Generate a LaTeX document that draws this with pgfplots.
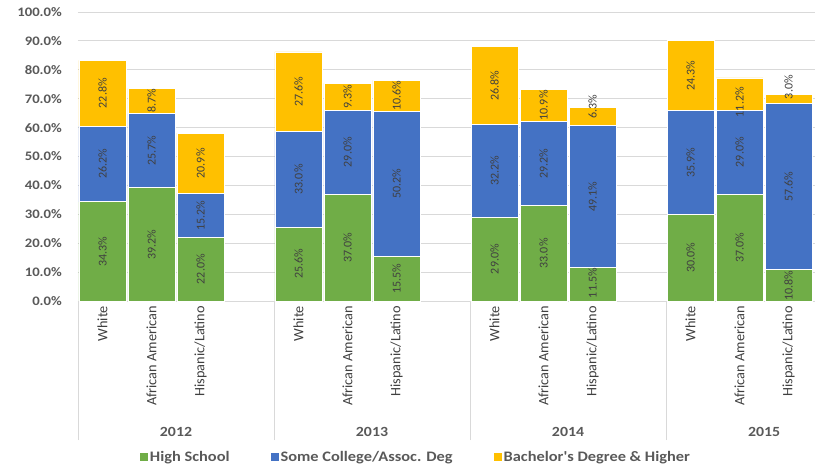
\documentclass[border=0pt]{standalone}
\usepackage{pgfplots}
\pgfplotsset{compat=1.18}
\usepackage{pgfplotstable}
\usepackage{fontspec}
\setmainfont{Carlito}
\newfontfamily\wide{Carlito}[FakeStretch=1.13]
\definecolor{cHS}{HTML}{70AD47}
\definecolor{cSC}{HTML}{4472C4}
\definecolor{cBA}{HTML}{FFC000}
\definecolor{gridc}{HTML}{D9D9D9}
\definecolor{tickc}{HTML}{595959}
\definecolor{labc}{HTML}{404040}

\pgfplotstableread{
x hs sc ba
0 34.3 26.2 22.8
1 39.2 25.7 8.7
2 22.0 15.2 20.9
4 25.6 33.0 27.6
5 37.0 29.0 9.3
6 15.5 50.2 10.6
8 29.0 32.2 26.8
9 33.0 29.2 10.9
10 11.5 49.1 6.3
12 30.0 35.9 24.3
13 37.0 29.0 11.2
14 10.8 57.6 3.0
}\datatable

% label positions (y), with the printed value v
\pgfplotstableread{
x y v
0 17.15 34.3
0 47.4 26.2
0 71.9 22.8
1 19.6 39.2
1 52.05 25.7
1 69.25 8.7
2 11.0 22.0
2 29.6 15.2
2 47.65 20.9
4 12.8 25.6
4 42.1 33.0
4 72.4 27.6
5 18.5 37.0
5 51.5 29.0
5 70.65 9.3
6 7.75 15.5
6 40.6 50.2
6 71.0 10.6
8 14.5 29.0
8 45.1 32.2
8 74.6 26.8
9 16.5 33.0
9 47.6 29.2
9 67.7 10.9
10 6.2 11.5
10 36.05 49.1
10 67.2 6.3
12 15.0 30.0
12 47.95 35.9
12 78.05 24.3
13 18.5 37.0
13 51.5 29.0
13 68.8 11.2
14 5.3 10.8
14 39.6 57.6
14 74.0 3.0
}\labeltable

\pgfplotsset{common/.style={
  at={(0,0)}, anchor=south west,
  scale only axis, width=737pt, height=289pt,
  xmin=-0.5, xmax=14.54, ymin=0, ymax=100,
  enlargelimits=false, clip=false,
}}

\begin{document}
\begin{tikzpicture}
\useasboundingbox (-78pt,-167pt) rectangle (737pt,301pt);
\begin{axis}[
  common,
  ybar stacked, bar width=0.96,
  axis line style={draw=none},
  ymajorgrids, grid style={draw=gridc, line width=0.8pt},
  ytick={0,10,...,100},
  yticklabel={\pgfmathprintnumber[fixed,fixed zerofill,precision=1]{\tick}\%},
  /pgf/number format/assume math mode=true,
  yticklabel style={font=\wide\bfseries\fontsize{13}{13}\selectfont, text=tickc, inner sep=0pt},
  yticklabel shift=16pt,
  xtick={0,1,2,4,5,6,8,9,10,12,13,14},
  xticklabels={White, African American, Hispanic/Latino, White, African American, Hispanic/Latino, White, African American, Hispanic/Latino, White, African American, Hispanic/Latino},
  xticklabel style={rotate=90, anchor=east, inner sep=0pt, font=\fontsize{14.3}{14.3}\selectfont, text=labc},
  xticklabel shift=5pt,
  major tick length=0pt,
  tick pos=left,
  extra x ticks={-0.5,3.5,7.5,11.5},
  extra x tick labels={},
  extra x tick style={major tick length=139pt, tick align=outside, major tick style={draw=gridc, line width=0.8pt}, grid=none},
  legend style={at={(axis description cs:0.4586,-0.54)}, anchor=center, draw=none, fill=none,
    font=\wide\bfseries\fontsize{14.5}{14.5}\selectfont, text=tickc,
    /tikz/every even column/.append style={column sep=39pt}},
  legend columns=3,
  legend image code/.code={\fill[#1,draw=none] (0pt,-4pt) rectangle (8pt,4pt);},
]
\addplot[fill=cHS, draw=white, line width=0.75pt] table[x=x, y=hs]{\datatable};
\addlegendentry{High School}
\addplot[fill=cSC, draw=white, line width=0.75pt] table[x=x, y=sc]{\datatable};
\addlegendentry{Some College/Assoc. Deg}
\addplot[fill=cBA, draw=white, line width=0.75pt] table[x=x, y=ba]{\datatable};
\addlegendentry{Bachelor's Degree \& Higher}
\node[text=tickc, font=\wide\bfseries\fontsize{14}{14}\selectfont] at (axis cs:1.5,0) [yshift=-131pt] {2012};
\node[text=tickc, font=\wide\bfseries\fontsize{14}{14}\selectfont] at (axis cs:5.5,0) [yshift=-131pt] {2013};
\node[text=tickc, font=\wide\bfseries\fontsize{14}{14}\selectfont] at (axis cs:9.5,0) [yshift=-131pt] {2014};
\node[text=tickc, font=\wide\bfseries\fontsize{14}{14}\selectfont] at (axis cs:13.5,0) [yshift=-131pt] {2015};
\end{axis}
\begin{axis}[common, hide axis]
\addplot[draw=none, mark=none,
  point meta=explicit,
  nodes near coords={\pgfmathprintnumber[fixed,fixed zerofill,precision=1,assume math mode=true]{\pgfplotspointmeta}\%},
  nodes near coords style={anchor=center, rotate=90, inner sep=0pt, font=\fontsize{12}{12}\selectfont, text=labc}]
  table[x=x, y=y, meta=v]{\labeltable};
\end{axis}
\end{tikzpicture}
\end{document}
